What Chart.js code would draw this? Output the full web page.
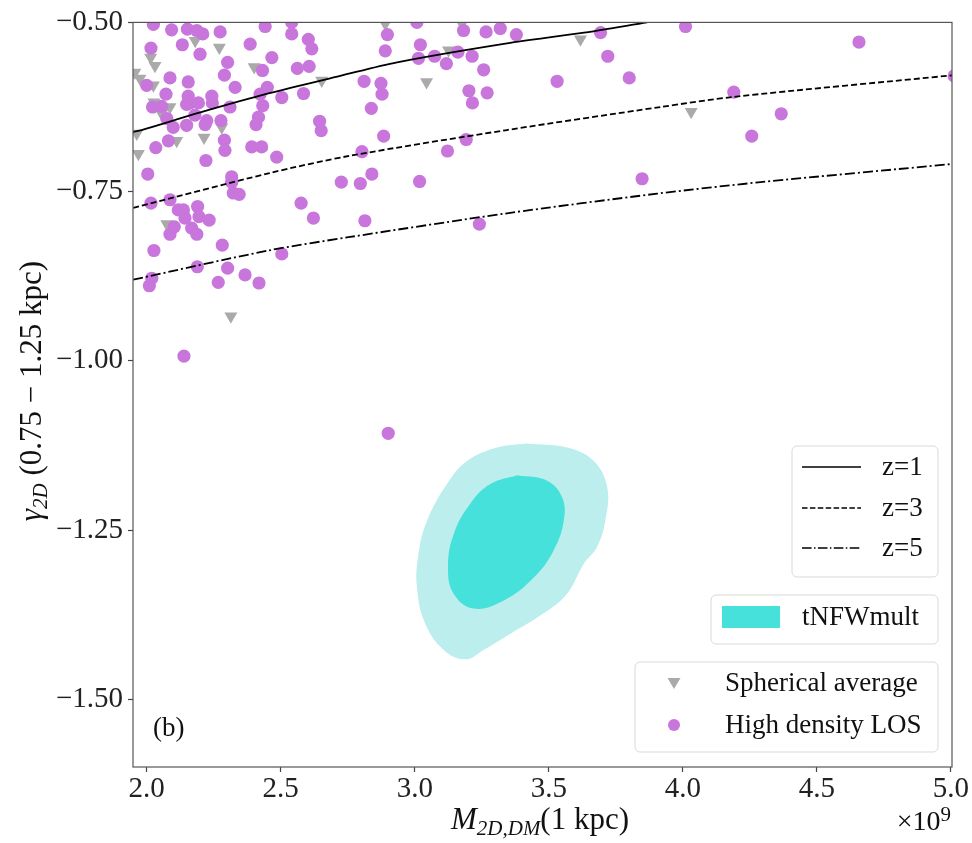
<!DOCTYPE html>
<html>
<head>
<meta charset="utf-8">
<script src="https://cdn.jsdelivr.net/npm/chart.js@4.4.0/dist/chart.umd.min.js"></script>
<style>
    html, body { margin: 0; padding: 0; background: #fff; }
    #wrap { width: 972px; height: 843px; }
</style>
</head>
<body>
<div id="wrap"><canvas id="myChart"></canvas></div>
<script>
// High density LOS (circles)
var losX = [2.025, 2.093, 2.152, 2.187, 2.209, 2.274, 2.442, 2.016, 2.133, 2.199, 2.386, 2.302, 2.087, 2.155, 2.290, 2.432,
    2.000, 2.072, 2.155, 2.162, 2.243, 2.330, 2.245, 2.193, 2.022, 2.056, 2.149, 2.311, 2.423, 2.075, 2.099, 2.180,
    2.224, 2.218, 2.149, 2.277, 2.417, 2.408, 2.081, 2.034, 2.290, 2.292, 2.392, 2.429, 2.541, 2.541, 2.603, 2.616,
    2.467, 2.562, 2.606, 2.898, 2.890, 2.450, 2.504, 2.585, 2.811, 2.874, 2.878, 2.838, 2.433, 2.645, 2.651, 2.884,
    2.803, 2.485, 2.221, 2.004, 2.317, 2.317, 2.323, 2.345, 2.016, 2.087, 2.118, 2.137, 2.190, 2.143, 2.195, 2.233,
    2.103, 2.168, 2.087, 2.187, 2.282, 2.027, 2.189, 2.302, 2.367, 2.019, 2.010, 2.267, 2.419, 2.504, 2.576, 2.622,
    2.726, 2.139, 2.901, 3.008, 3.021, 3.014, 3.074, 3.118, 3.161, 3.214, 3.182, 3.266, 3.319, 3.379, 3.257, 3.202,
    3.270, 3.215, 3.531, 3.693, 3.720, 3.800, 3.122, 3.192, 2.797, 2.840, 3.018, 3.848, 2.814, 3.241, 4.010, 4.657,
    4.190, 4.367, 4.257, 5.012];
var losY = [-0.503, -0.511, -0.510, -0.512, -0.517, -0.514, -0.506, -0.538, -0.533, -0.547, -0.532, -0.559, -0.582, -0.588, -0.578, -0.571,
    -0.593, -0.606, -0.609, -0.619, -0.609, -0.596, -0.619, -0.619, -0.625, -0.624, -0.621, -0.625, -0.606, -0.642, -0.655, -0.637,
    -0.645, -0.651, -0.652, -0.645, -0.640, -0.651, -0.675, -0.685, -0.674, -0.689, -0.684, -0.684, -0.500, -0.517, -0.525, -0.539,
    -0.552, -0.568, -0.565, -0.518, -0.542, -0.596, -0.611, -0.605, -0.587, -0.590, -0.606, -0.627, -0.623, -0.646, -0.660, -0.668,
    -0.691, -0.699, -0.704, -0.724, -0.728, -0.736, -0.752, -0.754, -0.767, -0.762, -0.777, -0.777, -0.772, -0.789, -0.787, -0.792,
    -0.802, -0.804, -0.813, -0.813, -0.829, -0.837, -0.861, -0.863, -0.873, -0.878, -0.889, -0.884, -0.885, -0.842, -0.767, -0.789,
    -0.736, -0.993, -1.107, -0.500, -0.533, -0.553, -0.550, -0.561, -0.544, -0.550, -0.512, -0.514, -0.509, -0.518, -0.570, -0.601,
    -0.604, -0.619, -0.587, -0.515, -0.550, -0.582, -0.690, -0.673, -0.738, -0.724, -0.735, -0.731, -0.793, -0.798, -0.506, -0.529,
    -0.603, -0.635, -0.668, -0.579];

// Spherical average (triangles)
var sphX = [2.181, 2.271, 2.015, 2.031, 2.401, 1.956, 1.975, 2.025, 2.027, 2.087, 2.056, 2.280, 2.214,
    2.112, 1.963, 1.969, 2.075, 2.314, 2.653, 2.890, 3.126, 3.044, 3.176, 3.618, 4.031];
var sphY = [-0.527, -0.537, -0.552, -0.564, -0.566, -0.574, -0.583, -0.593, -0.618, -0.625, -0.635, -0.655, -0.670,
    -0.675, -0.664, -0.694, -0.798, -0.934, -0.586, -0.502, -0.541, -0.588, -0.502, -0.525, -0.632];

// z curves
var z1X = [1.949, 1.981, 2.200, 2.454, 2.722, 2.934, 3.344, 3.618, 3.867];
var z1Y = [-0.662, -0.659, -0.633, -0.605, -0.579, -0.559, -0.531, -0.516, -0.500];
var z3X = [1.950, 2.454, 2.759, 3.344, 3.917, 4.190, 5.010];
var z3Y = [-0.774, -0.723, -0.697, -0.659, -0.625, -0.610, -0.578];
var z5X = [1.950, 2.454, 2.759, 3.344, 3.904, 4.290, 5.010];
var z5Y = [-0.880, -0.837, -0.817, -0.782, -0.753, -0.736, -0.709];

// tNFWmult contours
var outerX = [3.419, 3.568, 3.668, 3.718, 3.711, 3.680, 3.630, 3.568, 3.481, 3.357, 3.257, 3.189, 3.108, 3.039, 3.008, 3.014, 3.046, 3.120, 3.195, 3.307];
var outerY = [-1.122, -1.128, -1.148, -1.187, -1.236, -1.275, -1.300, -1.344, -1.373, -1.403, -1.427, -1.441, -1.427, -1.388, -1.334, -1.285, -1.236, -1.182, -1.148, -1.128];
var innerX = [3.382, 3.494, 3.550, 3.556, 3.518, 3.444, 3.332, 3.220, 3.145, 3.124, 3.145, 3.207, 3.282];
var innerY = [-1.169, -1.177, -1.202, -1.236, -1.280, -1.320, -1.354, -1.366, -1.344, -1.305, -1.256, -1.211, -1.182];

var xTicks = [2.0, 2.5, 3.0, 3.5, 4.0, 4.5, 5.0];
var yTicks = [-1.5, -1.25, -1.0, -0.75, -0.5];

const pts = (xs, ys) => xs.map((x, i) => ({ x: x, y: ys[i] }));
const closed = (xs, ys) => { const p = pts(xs, ys); return p.concat([p[0]]); };

const SERIF = '"Liberation Serif", "DejaVu Serif", serif';
const PURPLE = '#c875dc';
const GREY = '#aaaaaa';
const TURQ = '#45e1da';

function drawRich(ctx, parts, x, y, align) {
    let w = 0;
    parts.forEach(p => { ctx.font = p.f; w += ctx.measureText(p.t).width; });
    let cx = align === 'center' ? x - w / 2 : (align === 'right' ? x - w : x);
    ctx.textAlign = 'left';
    ctx.textBaseline = 'alphabetic';
    parts.forEach(p => {
        ctx.font = p.f;
        ctx.fillText(p.t, cx, y + (p.dy || 0));
        cx += ctx.measureText(p.t).width;
    });
}

function box(ctx, x, y, w, h, r) {
    ctx.beginPath();
    ctx.moveTo(x + r, y);
    ctx.arcTo(x + w, y, x + w, y + h, r);
    ctx.arcTo(x + w, y + h, x, y + h, r);
    ctx.arcTo(x, y + h, x, y, r);
    ctx.arcTo(x, y, x + w, y, r);
    ctx.closePath();
    ctx.fillStyle = 'rgba(255,255,255,0.85)';
    ctx.fill();
    ctx.strokeStyle = '#d9d9d9';
    ctx.lineWidth = 1;
    ctx.stroke();
}

const decor = {
    id: 'decor',
    afterDatasetsDraw(chart) {
        const ctx = chart.ctx, a = chart.chartArea;
        ctx.save();
        ctx.strokeStyle = '#555';
        ctx.lineWidth = 1.2;
        ctx.strokeRect(a.left, a.top, a.right - a.left, a.bottom - a.top);
        ctx.restore();
    },
    afterDraw(chart) {
        const ctx = chart.ctx, a = chart.chartArea;
        const font = '27px ' + SERIF;
        ctx.save();

        // legend: z lines
        let R = a.right - 14;
        box(ctx, R - 146, 446, 146, 131, 5);
        const lineRows = [[467, [], 'z=1'], [508, [5.5, 2.4], 'z=3'], [548, [9.6, 2.4, 1.5, 2.4], 'z=5']];
        lineRows.forEach(r => {
            ctx.beginPath();
            ctx.setLineDash(r[1]);
            ctx.strokeStyle = '#000';
            ctx.lineWidth = 1.5;
            ctx.moveTo(R - 136, r[0]);
            ctx.lineTo(R - 77, r[0]);
            ctx.stroke();
            ctx.setLineDash([]);
            ctx.fillStyle = '#111';
            ctx.font = font;
            ctx.textAlign = 'left';
            ctx.textBaseline = 'middle';
            ctx.fillText(r[2], R - 56, r[0] + 1);
        });

        // legend: contour
        box(ctx, R - 227, 595, 227, 49, 5);
        ctx.fillStyle = TURQ;
        ctx.fillRect(R - 216, 606, 58, 22);
        ctx.fillStyle = '#111';
        ctx.font = font;
        ctx.textBaseline = 'middle';
        ctx.fillText('tNFWmult', R - 136, 618);

        // legend: markers
        box(ctx, R - 303, 662, 303, 90, 5);
        ctx.fillStyle = GREY;
        ctx.beginPath();
        ctx.moveTo(R - 270.5, 678);
        ctx.lineTo(R - 257.5, 678);
        ctx.lineTo(R - 264, 689);
        ctx.closePath();
        ctx.fill();
        ctx.fillStyle = PURPLE;
        ctx.beginPath();
        ctx.arc(R - 264, 725, 6, 0, Math.PI * 2);
        ctx.fill();
        ctx.fillStyle = '#111';
        ctx.font = font;
        ctx.fillText('Spherical average', R - 213, 684);
        ctx.fillText('High density LOS', R - 213, 726);

        // panel label
        ctx.textBaseline = 'middle';
        ctx.fillText('(b)', a.left + 20, 729);

        // axis titles
        ctx.fillStyle = '#111';
        drawRich(ctx, [
            { t: 'M', f: 'italic 31px ' + SERIF },
            { t: '2D,DM', f: 'italic 21px ' + SERIF, dy: 6 },
            { t: '(1 kpc)', f: '31px ' + SERIF }
        ], 540, 829, 'center');
        drawRich(ctx, [
            { t: '\u00d710', f: '28px ' + SERIF },
            { t: '9', f: '21px ' + SERIF, dy: -9 }
        ], 951, 830, 'right');

        ctx.translate(41, 391);
        ctx.rotate(-Math.PI / 2);
        drawRich(ctx, [
            { t: '\u03b3', f: 'italic 31px ' + SERIF },
            { t: '2D', f: 'italic 21px ' + SERIF, dy: 6 },
            { t: ' (0.75 \u2212 1.25 kpc)', f: '31px ' + SERIF }
        ], 0, 0, 'center');
        ctx.restore();
    }
};

const axisCommon = {
    type: 'linear',
    grid: { display: true, drawOnChartArea: false, drawTicks: true, tickLength: 5, tickColor: '#444', tickWidth: 1.2 },
    border: { display: false },
    ticks: { font: { family: SERIF, size: 29 }, color: '#222', autoSkip: false, maxRotation: 0, padding: 5 }
};

new Chart('myChart', {
    type: 'scatter',
    data: {
        datasets: [
            { label: 'z=1', data: pts(z1X, z1Y), showLine: true, borderColor: '#000', borderWidth: 1.8, pointRadius: 0, tension: 0.3, order: 0, clip: 0 },
            { label: 'z=3', data: pts(z3X, z3Y), showLine: true, borderColor: '#000', borderWidth: 1.8, borderDash: [6, 3], pointRadius: 0, tension: 0.3, order: 0, clip: 0 },
            { label: 'z=5', data: pts(z5X, z5Y), showLine: true, borderColor: '#000', borderWidth: 1.8, borderDash: [10, 3, 2, 3], pointRadius: 0, tension: 0.3, order: 0, clip: 0 },
            { label: 'High density LOS', data: pts(losX, losY), pointStyle: 'circle', pointRadius: 6.6, pointBackgroundColor: PURPLE, pointBorderWidth: 0, backgroundColor: PURPLE, borderColor: PURPLE, order: 1, clip: 0 },
            { label: 'Spherical average', data: pts(sphX, sphY), pointStyle: 'triangle', pointRotation: 180, pointRadius: 7.5, pointBackgroundColor: GREY, pointBorderWidth: 0, backgroundColor: GREY, borderColor: GREY, order: 2, clip: 0 },
            { label: 'tNFWmult 1', data: closed(innerX, innerY), showLine: true, fill: 'shape', backgroundColor: TURQ, borderColor: 'rgba(0,0,0,0)', borderWidth: 0, pointRadius: 0, tension: 0.4, order: 3, clip: 0 },
            { label: 'tNFWmult 2', data: closed(outerX, outerY), showLine: true, fill: 'shape', backgroundColor: '#bbeeed', borderColor: 'rgba(0,0,0,0)', borderWidth: 0, pointRadius: 0, tension: 0.4, order: 4, clip: 0 }
        ]
    },
    options: {
        responsive: true,
        maintainAspectRatio: false,
        animation: false,
        layout: { padding: { top: 20, right: 20, left: 0, bottom: 0 } },
        plugins: { legend: { display: false }, tooltip: { enabled: false } },
        scales: {
            x: Object.assign({}, axisCommon, {
                min: 1.949, max: 5.004,
                afterBuildTicks: s => { s.ticks = xTicks.map(v => ({ value: v })); },
                afterFit: s => { s.height = 76; },
                ticks: Object.assign({}, axisCommon.ticks, { padding: 0, callback: v => v.toFixed(1) })
            }),
            y: Object.assign({}, axisCommon, {
                min: -1.6, max: -0.5,
                afterBuildTicks: s => { s.ticks = yTicks.map(v => ({ value: v })); },
                afterFit: s => { s.width = 133; },
                ticks: Object.assign({}, axisCommon.ticks, { callback: v => '\u2212' + Math.abs(v).toFixed(2) })
            })
        }
    },
    plugins: [decor]
});
</script>
</body>
</html>
